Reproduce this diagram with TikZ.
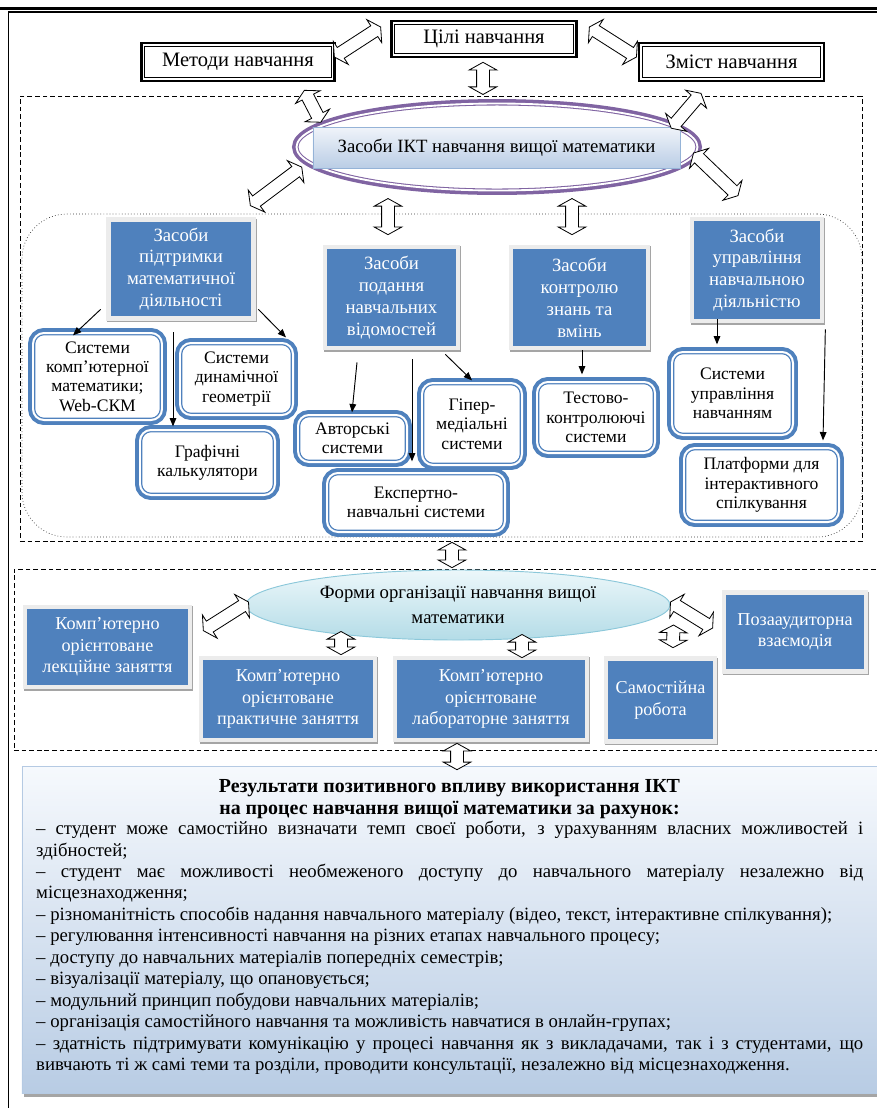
\documentclass[tikz,border=0pt]{standalone}
\usepackage{fontspec}
\setmainfont{Liberation Serif}
\usetikzlibrary{arrows.meta,shapes.geometric,shapes.arrows,calc}

\definecolor{boxblue}{RGB}{79,129,189}
\definecolor{framegray}{RGB}{236,236,236}
\definecolor{shadegray}{RGB}{165,165,165}
\definecolor{ellpurple}{RGB}{128,100,162}
\definecolor{ikttop}{RGB}{240,244,250}
\definecolor{iktbot}{RGB}{186,205,229}
\definecolor{iktline}{RGB}{149,179,215}
\definecolor{formtop}{RGB}{236,247,250}
\definecolor{formbot}{RGB}{180,220,231}
\definecolor{formline}{RGB}{140,200,218}
\definecolor{restop}{RGB}{246,249,253}
\definecolor{resbot}{RGB}{184,204,228}

% hollow two-headed arrow between two points
\newcommand{\biarrow}[3]{%
  \path let \p1=(#2), \p2=(#3), \n1={atan2(\y2-\y1,\x2-\x1)}, \n2={veclen(\x2-\x1,\y2-\y1)} in
    node[hollow, minimum height=\n2, rotate=\n1] (#1) at ($(\p1)!0.5!(\p2)$) {};}

\begin{document}
\begin{tikzpicture}[x=0.03cm, y=-0.03cm,
  topbox/.style={rectangle, fill=white, preaction={draw=black, line width=5.6pt},
    draw=black, double=white, line width=0.6pt, double distance=1.6pt,
    inner sep=0pt, font=\fontsize{17.5}{20}\selectfont},
  sysbox/.style={rectangle, rounded corners=0.33cm, fill=white,
    preaction={draw=boxblue, line width=8.5pt}, draw=boxblue, double=white,
    line width=1.1pt, double distance=1.7pt, inner sep=0pt, align=center,
    font=\fontsize{15}{16.5}\selectfont},
  bluebox/.style={rectangle, fill=boxblue, text=white, draw=framegray, line width=4pt,
    preaction={draw=shadegray, line width=4pt, transform canvas={shift={(0.8pt,-1.3pt)}}},
    inner sep=0pt, align=center, font=\fontsize{16}{18.7}\selectfont},
  lowbox/.style={bluebox, font=\fontsize{15.5}{18.3}\selectfont},
  zone/.style={rectangle, draw, dash pattern=on 4pt off 2.5pt, line width=0.6pt, inner sep=0pt},
  dotzone/.style={rectangle, draw=black!80, dotted, line width=0.6pt, rounded corners=1.35cm, inner sep=0pt},
  hollow/.style={double arrow, draw, fill=white, line width=0.7pt, inner xsep=0pt, inner ysep=0.18cm,
    double arrow head extend=0.22cm, double arrow tip angle=122},
  arr/.style={-{Triangle[length=0.25cm, width=0.2cm]}, line width=0.8pt}]

\useasboundingbox (0,0) rectangle (877,1108);

% page frame
\draw[line width=2.2pt] (0,8.5) -- (877,8.5);
\draw[line width=0.9pt] (8.5,12) rectangle (900,1130);

% zones
\node[zone, minimum width=25.26cm, minimum height=13.35cm] (ictzone) at (441,318.5) {};
\node[dotzone, minimum width=25.2cm, minimum height=9.69cm] (toolzone) at (442,375.5) {};
\node[zone, minimum width=26.43cm, minimum height=5.43cm] (formzone) at (454.5,659.5) {};

% top row
\node[topbox, minimum width=5.67cm, minimum height=1.0cm] (metody) at (238,62) {Методи навчання};
\node[topbox, minimum width=5.43cm, minimum height=0.94cm] (tsili) at (484,39) {Цілі навчання};
\node[topbox, minimum width=5.41cm, minimum height=1.0cm] (zmist) at (731.5,62) {Зміст навчання};

% ICT means
\node[ellipse, fill=white, preaction={draw=ellpurple, line width=7.6pt}, draw=ellpurple,
  double=white, line width=0.9pt, double distance=1.6pt, inner sep=0pt,
  minimum width=12.03cm, minimum height=2.61cm] (ikt) at (497,147) {};
\node[rectangle, top color=ikttop, bottom color=iktbot, draw=iktline, line width=0.6pt,
  minimum width=11.01cm, minimum height=1.23cm, inner sep=0pt,
  font=\fontsize{16}{19}\selectfont] (iktrect) at (496.5,147.5) {Засоби ІКТ навчання вищої математики};

\node[bluebox, minimum width=4.35cm, minimum height=2.97cm] (pidtr) at (181,269) {Засоби\\підтримки\\математичної\\діяльності};
\node[bluebox, minimum width=3.99cm, minimum height=3.03cm] (podan) at (391.5,297.5) {Засоби\\подання\\навчальних\\відомостей};
\node[bluebox, minimum width=4.11cm, minimum height=3.03cm] (kontr) at (579.5,297.5) {Засоби\\контролю\\знань та\\вмінь};
\node[bluebox, minimum width=3.9cm, minimum height=3.06cm] (uprav) at (757,270) {Засоби\\управління\\навчальною\\діяльністю};

\node[sysbox, minimum width=3.87cm, minimum height=2.61cm] (skm) at (97.5,376.5) {Системи\\комп’ютерної\\математики;\\Web-СКМ};
\node[sysbox, minimum width=3.39cm, minimum height=2.16cm] (dyn) at (236.5,379) {Системи\\динамічної\\геометрії};
\node[sysbox, minimum width=4.05cm, minimum height=1.95cm] (graf) at (207.5,462.5) {Графічні\\калькулятори};
\node[sysbox, minimum width=3.27cm, minimum height=1.41cm] (avt) at (352.5,438.5) {Авторські\\системи};
\node[sysbox, minimum width=3.0cm, minimum height=2.46cm] (giper) at (472,424) {Гіпер-\\медіальні\\системи};
\node[sysbox, minimum width=5.34cm, minimum height=1.77cm] (ekspert) at (416,502.5) {Експертно-\\навчальні системи};
\node[sysbox, minimum width=3.54cm, minimum height=2.13cm] (test) at (596,417.5) {Тестово-\\контролюючі\\системи};
\node[sysbox, minimum width=3.63cm, minimum height=2.49cm] (sun) at (732.5,393.5) {Системи\\управління\\навчанням};
\node[sysbox, minimum width=4.65cm, minimum height=2.22cm] (platf) at (761.5,485) {Платформи для\\інтерактивного\\спілкування};

\draw[arr] ([shift={(-5.5,-11.5)}]pidtr.south west) -- ([shift={(-24.5,3)}]skm.north);
\draw[arr] ([shift={(-8,11.5)}]pidtr.south) -- ([shift={(-34.5,-3)}]graf.north);
\draw[arr] ([shift={(2.5,-11.5)}]pidtr.south east) -- ([shift={(49.5,-5)}]dyn.north);
\draw[arr] ([shift={(-34.5,12)}]podan.south) -- ([shift={(-0.5,-2)}]avt.north);
\draw[arr] ([shift={(20.5,9)}]podan.south) -- ([shift={(-4,-11)}]ekspert.north);
\draw[arr] ([shift={(-15,4)}]podan.south east) -- ([shift={(0,-2)}]giper.north);
\draw[arr] ([shift={(2.5,0)}]kontr.south) -- ([shift={(-14,-7)}]test.north);
\draw[arr] ([shift={(-40,-4)}]uprav.south) -- ([shift={(-15.5,-7)}]sun.north);
\draw[arr] ([shift={(1,6)}]uprav.south east) -- ([shift={(61.5,-7)}]platf.north);

% forms of organisation
\node[ellipse, top color=formtop, bottom color=formbot, draw=formline, line width=0.8pt,
  minimum width=12.72cm, minimum height=2.1cm, inner sep=0pt, align=center,
  font=\fontsize{16}{21}\selectfont] (forms) at (458,605) {Форми організації навчання вищої\\математики};

\node[lowbox, minimum width=4.95cm, minimum height=2.4cm] (lekc) at (107.5,647) {Комп’ютерно\\орієнтоване\\лекційне заняття};
\node[lowbox, minimum width=5.22cm, minimum height=2.46cm] (prakt) at (288,699) {Комп’ютерно\\орієнтоване\\практичне заняття};
\node[lowbox, minimum width=5.76cm, minimum height=2.46cm] (labor) at (491,699) {Комп’ютерно\\орієнтоване\\лабораторне заняття};
\node[lowbox, minimum width=3.27cm, minimum height=2.49cm] (samost) at (660.5,700) {Самостійна\\робота};
\node[lowbox, minimum width=4.26cm, minimum height=2.37cm] (poza) at (795,632) {Позааудиторна\\взаємодія};

% results
\node[rectangle, top color=restop, bottom color=resbot, draw=iktline!70, line width=0.5pt,
  preaction={fill=shadegray, transform canvas={shift={(2pt,-3.5pt)}}},
  minimum width=26.19cm, minimum height=9.81cm, inner sep=0pt] (res) at (458.5,929.5) {};
\node[align=center, inner sep=0pt, font=\fontsize{17}{18.7}\selectfont\bfseries] (restitle) at (449.5,799)
  {Результати позитивного впливу використання ІКТ\\на процес навчання вищої математики за рахунок:};
\node[anchor=north west, text width=24.81cm, inner sep=0pt, align=justify,
  font=\fontsize{16}{18.3}\selectfont] (restext) at (36,821) {%
  \parindent=0pt\hyphenpenalty=10000\tolerance=9999%
  – студент може самостійно визначати темп своєї роботи, з урахуванням власних можливостей і\linebreak здібностей;\par
  – студент має можливості необмеженого доступу до навчального матеріалу незалежно від\linebreak місцезнаходження;\par
  – різноманітність способів надання навчального матеріалу (відео, текст, інтерактивне спілкування);\par
  – регулювання інтенсивності навчання на різних етапах навчального процесу;\par
  – доступу до навчальних матеріалів попередніх семестрів;\par
  – візуалізації матеріалу, що опановується;\par
  – модульний принцип побудови навчальних матеріалів;\par
  – організація самостійного навчання та можливість навчатися в онлайн-групах;\par
  – здатність підтримувати комунікацію у процесі навчання як з викладачами, так і з студентами, що\linebreak вивчають ті ж самі теми та розділи, проводити консультації, незалежно від місцезнаходження.};

% hollow two-way arrows
\biarrow{h1}{[shift={(1.5,-5)}]metody.east}{[shift={(-12.5,-12)}]tsili.west}
\biarrow{h2}{[shift={(14.5,-12)}]tsili.east}{[shift={(-4.5,-5)}]zmist.west}
\biarrow{h3}{[shift={(-1,7.3)}]tsili.south}{[shift={(-14,-8.5)}]ikt.north}
\biarrow{h4}{[shift={(-28.5,11.3)}]metody.south east}{[shift={(-7,-1)}]ikt.172}
\biarrow{h5}{[shift={(-30.5,14.3)}]zmist.south}{[shift={(5,5)}]ikt.8}
\biarrow{h6}{[shift={(-14,1)}]ikt.186}{[shift={(-5.5,-11.5)}]pidtr.north east}
\biarrow{h7}{[shift={(-4.5,6)}]ikt.east}{[shift={(-19,-21)}]uprav.north}
\biarrow{h8}{[shift={(-109,7.5)}]ikt.south}{[shift={(-3.5,-10)}]podan.north}
\biarrow{h9}{[shift={(75,7.5)}]ikt.south}{[shift={(-7.5,-10)}]kontr.north}
\biarrow{h10}{[shift={(11,1)}]ictzone.south}{[shift={(-2.5,-1)}]formzone.north}
\biarrow{h11}{[shift={(3,-3)}]forms.west}{[shift={(11,26)}]lekc.north east}
\biarrow{h12}{[shift={(-117,-9)}]forms.south}{[shift={(53,-1)}]prakt.north}
\biarrow{h13}{[shift={(64,-6)}]forms.south}{[shift={(31,2)}]labor.north}
\biarrow{h14}{[shift={(0,-3)}]forms.east}{[shift={(-9,-4)}]poza.west}
\biarrow{h15}{[shift={(3,20)}]forms.east}{[shift={(12.5,-8.5)}]samost.north}
\biarrow{h16}{[shift={(2.5,-7)}]formzone.south}{[shift={(-1.5,4)}]res.north}

\end{tikzpicture}
\end{document}
